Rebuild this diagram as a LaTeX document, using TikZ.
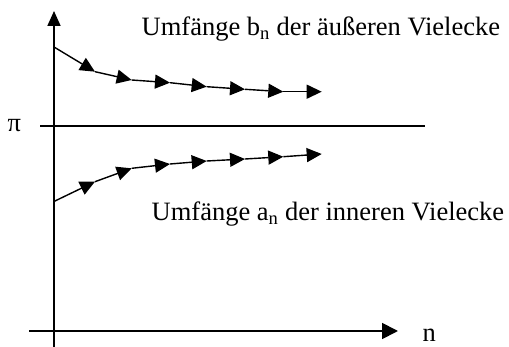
\documentclass[tikz,border=0pt]{standalone}
\usepackage{fontspec}
\setmainfont{Liberation Serif}
\usetikzlibrary{arrows.meta}
\begin{document}
\begin{tikzpicture}[x=1pt,y=-1pt,
  axis/.style={line width=1.8pt},
  seg/.style={line width=1.4pt,-{Triangle[length=15pt,width=14pt]}},
  lbl/.style={inner sep=0pt,text depth=0pt,font=\fontsize{26.5}{30}\selectfont}]
\useasboundingbox (0,0) rectangle (509,347);
% axes
\coordinate (yb) at (54,347);
\coordinate (yt) at (54,11);
\coordinate (xl) at (29,331);
\coordinate (xr) at (398,331);
\draw[axis,-{Triangle[length=15pt,width=13pt]}] (yb) -- (yt);
\draw[axis,-{Triangle[length=16pt,width=16pt]}] (xl) -- (xr);
\coordinate (pl) at (40,126);
\coordinate (pr) at (425,126);
\draw[line width=1.4pt] (pl) -- (pr);
\node[lbl,anchor=base west] (pi) at (7.5,131.5) {π};
\node[lbl,anchor=base west] (n) at (422.5,342) {n};
% upper curve
\coordinate (b0) at (53.5,46.7);
\coordinate (b1) at (95,71.7);
\coordinate (b2) at (131.7,80);
\coordinate (b3) at (170,82.7);
\coordinate (b4) at (206.7,86.7);
\coordinate (b5) at (245,89.3);
\coordinate (b6) at (283.3,91.7);
\coordinate (b7) at (321.7,91.7);
\foreach \i/\j in {b0/b1,b1/b2,b2/b3,b3/b4,b4/b5,b5/b6,b6/b7}
  \draw[seg] (\i) -- (\j);
% lower curve
\coordinate (a0) at (53.5,201.7);
\coordinate (a1) at (95,181.7);
\coordinate (a2) at (131.7,168.3);
\coordinate (a3) at (170,164);
\coordinate (a4) at (206.7,161);
\coordinate (a5) at (245,159);
\coordinate (a6) at (283.3,156.7);
\coordinate (a7) at (321.7,154);
\foreach \i/\j in {a0/a1,a1/a2,a2/a3,a3/a4,a4/a5,a5/a6,a6/a7}
  \draw[seg] (\i) -- (\j);
% labels
\node[lbl,anchor=base west] (tb) at (141.5,35.5) {Umfänge b\textsubscript{n} der äußeren Vielecke};
\node[lbl,anchor=base west] (ta) at (151.5,220.5) {Umfänge a\textsubscript{n} der inneren Vielecke};
\end{tikzpicture}
\end{document}
